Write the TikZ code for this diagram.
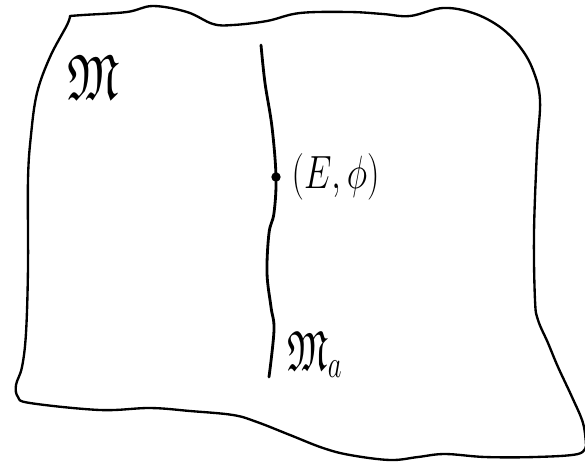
\documentclass[tikz,border=0pt]{standalone}
\usepackage{graphicx}
\usepackage{amsmath,amssymb}
\usetikzlibrary{positioning}
\tikzset{
  sketchline/.style={line width=2pt,line join=round,line cap=round},
  leafline/.style={line width=2.4pt,line cap=round},
  ptdot/.style={circle,fill,inner sep=0pt,minimum size=8pt},
  handlabel/.style={inner sep=0pt}
}
\newcommand{\bigM}{\scalebox{1}[1.3]{\fontsize{42}{42}\selectfont$\mathfrak{M}$}}
\newcommand{\pairE}{\scalebox{1.2}[1.6]{\Huge$(E,\phi)$}}
\newcommand{\leafM}{\scalebox{1.1}[1.6]{\fontsize{30}{30}\selectfont$\mathfrak{M}_a$}}

\begin{document}
\begin{tikzpicture}[x=0.03cm,y=-0.03cm]
\useasboundingbox (0,0) rectangle (585,463);
\draw[sketchline] plot[smooth,tension=.6] coordinates {(70,16) (83,15) (127,12) (153,6) (187,12) (213,24) (233,25) (267,21) (300,13) (350,12) (383,14) (410,16) (443,8) (473,13) (500,27) (520,47) (533,70) (540,100) (537,150) (534,233) (535,300) (538,320) (548,343) (558,367) (572,397) (583,423) (586,445)}
  -- plot[smooth,tension=.6] coordinates {(586,445) (578,454) (535,457) (485,457) (445,454) (418,457) (390,460) (350,455) (323,448) (290,435) (257,422) (233,415) (190,411) (150,408) (100,410) (30,403) (18,397) (16,385) (22,367) (26,333) (28,267) (28,180) (31,135) (37,93) (50,57) (67,25) (70,16)} -- cycle;
\draw[leafline] plot[smooth,tension=.6] coordinates {(261,45) (265,83) (272,127) (276,177) (274,213) (269,233) (267,273) (271,307) (274,330) (269,377)};
\node[ptdot] (pt) at (276,177) {};
\node[handlabel,right=9pt of pt] (pair) {\pairE};
\node[handlabel] (total) at (93,77) {\bigM};
\node[handlabel,anchor=west] (leaf) at (287,355) {\leafM};
\end{tikzpicture}
\end{document}
